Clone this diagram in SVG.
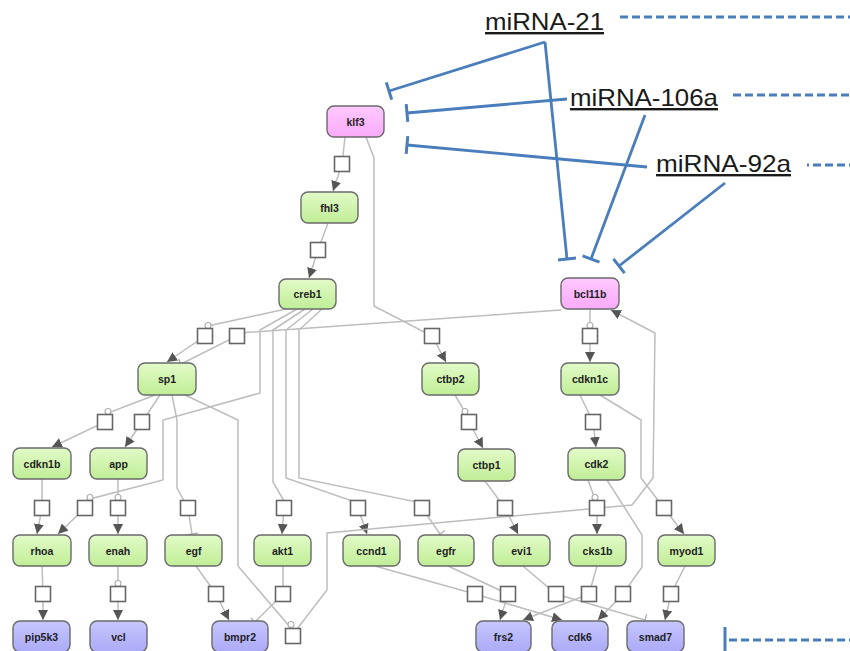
<svg xmlns="http://www.w3.org/2000/svg" width="850" height="651" viewBox="0 0 850 651">
<defs>
<linearGradient id="gG" x1="0" y1="0" x2="0" y2="1"><stop offset="0" stop-color="#e2fbc8"/><stop offset="1" stop-color="#c0ed96"/></linearGradient>
<linearGradient id="gP" x1="0" y1="0" x2="0" y2="1"><stop offset="0" stop-color="#ffc8ff"/><stop offset="1" stop-color="#f9abf9"/></linearGradient>
<linearGradient id="gB" x1="0" y1="0" x2="0" y2="1"><stop offset="0" stop-color="#c6c6ff"/><stop offset="1" stop-color="#abaaf6"/></linearGradient>
<marker id="arr" markerUnits="userSpaceOnUse" markerWidth="11" markerHeight="10" refX="10" refY="5" orient="auto"><path d="M0,0 L10,5 L0,10 z" fill="#555"/></marker>
<marker id="tick" markerUnits="userSpaceOnUse" markerWidth="4" markerHeight="12" refX="2" refY="6" orient="auto"><path d="M2,0 L2,12" stroke="#aaa" stroke-width="1.2"/></marker>
<marker id="tbar" markerUnits="userSpaceOnUse" markerWidth="6" markerHeight="20" refX="3" refY="10" orient="auto"><path d="M3,1 L3,19" stroke="#4a7dbb" stroke-width="3"/></marker>
</defs>
<style>
.n rect{stroke:#6a6a6a;stroke-width:1.4}
.g rect{fill:url(#gG)}
.p rect{fill:url(#gP)}
.b rect{fill:url(#gB)}
.n text{font-family:"Liberation Sans",Arial,sans-serif;font-weight:bold;font-size:10.5px;fill:#1e1e1e;text-anchor:middle}
.e path{fill:none;stroke:#bdbdbd;stroke-width:1.5}
.sq rect{fill:#fff;stroke:#666;stroke-width:1.6}
.sq circle{fill:#fff;stroke:#aaa;stroke-width:1.1}
.bl path{fill:none;stroke:#4a7dbb;stroke-width:2.8}
.ds path{fill:none;stroke:#4a7dbb;stroke-width:3;stroke-dasharray:8 4}
.mi{font-family:"Liberation Sans",Arial,sans-serif;font-size:24px;fill:#1a1a1a;text-decoration:underline}
</style>

<g id="connectors" class="e">
<path marker-end="url(#arr)" d="M345,137 L342,164 L333,191"/>
<path marker-end="url(#arr)" d="M328,223 L318,250 L309,278"/>
<path marker-end="url(#arr)" d="M366,137 L374,158 L374,306 L432,336 L446,362"/>
<path marker-end="url(#arr)" d="M286,309 L208,326 L205,336 L167,362"/>
<path marker-end="url(#tick)" d="M561,310 L240,333 L237,336 L181,364"/>
<path marker-end="url(#arr)" d="M297,309 L260,330 L260,393 L163,420 L163,480 L90,499 L85,508 L58,534"/>
<path marker-end="url(#arr)" d="M305,309 L273,330 L273,482 L284,501 L284,508 L282,534"/>
<path marker-end="url(#arr)" d="M313,309 L286,330 L286,478 L358,503 L358,508 L367,534"/>
<path marker-end="url(#tick)" d="M322,309 L299,330 L299,478 L422,503 L422,508 L440,534"/>
<path marker-end="url(#arr)" d="M155,395 L108,413 L105,422 L52,447"/>
<path marker-end="url(#arr)" d="M160,395 L142,422 L125,447"/>
<path marker-end="url(#tick)" d="M172,395 L177,420 L177,488 L188,508 L192,534"/>
<path d="M185,395 L238,420 L238,566 L290,627 L293,636"/>
<path marker-end="url(#arr)" d="M297,629 L327,590 L327,533 L632,505 L653,478 L655,333 L611,310"/>
<path marker-end="url(#arr)" d="M590,309 L590,336 L590,362"/>
<path marker-end="url(#arr)" d="M455,395 L465,412 L469,422 L483,448"/>
<path marker-end="url(#arr)" d="M485,481 L505,508 L518,534"/>
<path marker-end="url(#arr)" d="M580,395 L593,422 L596,447"/>
<path marker-end="url(#arr)" d="M600,395 L641,420 L641,478 L664,508 L684,534"/>
<path marker-end="url(#arr)" d="M588,480 L595,499 L597,508 L597,534"/>
<path marker-end="url(#arr)" d="M607,480 L642,535 L642,567 L623,594 L598,620"/>
<path marker-end="url(#arr)" d="M42,479 L42,508 L37,534"/>
<path marker-end="url(#arr)" d="M118,479 L118,508 L118,534"/>
<path marker-end="url(#arr)" d="M42,566 L43,594 L43,620"/>
<path marker-end="url(#arr)" d="M118,566 L118,594 L118,620"/>
<path marker-end="url(#arr)" d="M196,566 L216,594 L229,620"/>
<path marker-end="url(#tick)" d="M283,566 L283,594 L255,622"/>
<path marker-end="url(#arr)" d="M375,566 L475,594 L562,620"/>
<path marker-end="url(#arr)" d="M448,566 L508,594 L500,620"/>
<path marker-end="url(#tick)" d="M523,566 L556,594 L645,620"/>
<path marker-end="url(#arr)" d="M597,566 L589,594 L523,620"/>
<path marker-end="url(#arr)" d="M685,566 L671,594 L665,620"/>
</g>

<g id="process-squares" class="sq">
<rect x="334.5" y="156.5" width="15" height="15"/>
<rect x="310.5" y="242.5" width="15" height="15"/>
<rect x="424.5" y="328.5" width="15" height="15"/>
<circle cx="208" cy="325.5" r="3"/><rect x="197.5" y="328.5" width="15" height="15"/>
<rect x="229.5" y="328.5" width="15" height="15"/>
<circle cx="590" cy="325.5" r="3"/><rect x="582.5" y="328.5" width="15" height="15"/>
<circle cx="465" cy="411.5" r="3"/><rect x="461.5" y="414.5" width="15" height="15"/>
<circle cx="108" cy="411.5" r="3"/><rect x="97.5" y="414.5" width="15" height="15"/>
<rect x="134.5" y="414.5" width="15" height="15"/>
<rect x="585.5" y="414.5" width="15" height="15"/>
<rect x="34.5" y="500.5" width="15" height="15"/>
<circle cx="90" cy="497.5" r="3"/><rect x="77.5" y="500.5" width="15" height="15"/>
<circle cx="118" cy="497.5" r="3"/><rect x="110.5" y="500.5" width="15" height="15"/>
<rect x="180.5" y="500.5" width="15" height="15"/>
<rect x="276.5" y="500.5" width="15" height="15"/>
<rect x="350.5" y="500.5" width="15" height="15"/>
<rect x="414.5" y="500.5" width="15" height="15"/>
<rect x="497.5" y="500.5" width="15" height="15"/>
<circle cx="595" cy="497.5" r="3"/><rect x="589.5" y="500.5" width="15" height="15"/>
<rect x="656.5" y="500.5" width="15" height="15"/>
<rect x="35.5" y="586.5" width="15" height="15"/>
<circle cx="118" cy="583.5" r="3"/><rect x="110.5" y="586.5" width="15" height="15"/>
<rect x="208.5" y="586.5" width="15" height="15"/>
<rect x="275.5" y="586.5" width="15" height="15"/>
<rect x="467.5" y="586.5" width="15" height="15"/>
<rect x="500.5" y="586.5" width="15" height="15"/>
<rect x="548.5" y="586.5" width="15" height="15"/>
<rect x="581.5" y="586.5" width="15" height="15"/>
<rect x="615.5" y="586.5" width="15" height="15"/>
<rect x="663.5" y="586.5" width="15" height="15"/>
<circle cx="291" cy="624.5" r="3"/><rect x="285.5" y="628.5" width="15" height="15"/>
</g>

<g id="klf3" class="n p"><rect x="327" y="106" width="57" height="31" rx="7"/><text x="355.5" y="125.5">klf3</text></g>
<g id="fhl3" class="n g"><rect x="301" y="192" width="57" height="31" rx="7"/><text x="329.5" y="211.5">fhl3</text></g>
<g id="creb1" class="n g"><rect x="279" y="279" width="57" height="30" rx="7"/><text x="307.5" y="298">creb1</text></g>
<g id="bcl11b" class="n p"><rect x="561" y="278" width="58" height="31" rx="7"/><text x="590" y="297.5">bcl11b</text></g>
<g id="sp1" class="n g"><rect x="138" y="363" width="58" height="32" rx="7"/><text x="167" y="383">sp1</text></g>
<g id="ctbp2" class="n g"><rect x="422" y="363" width="57" height="32" rx="7"/><text x="450.5" y="383">ctbp2</text></g>
<g id="cdkn1c" class="n g"><rect x="561" y="363" width="58" height="32" rx="7"/><text x="590" y="383">cdkn1c</text></g>
<g id="cdkn1b" class="n g"><rect x="13" y="448" width="58" height="31" rx="7"/><text x="42" y="467.5">cdkn1b</text></g>
<g id="app" class="n g"><rect x="90" y="448" width="57" height="31" rx="7"/><text x="118.5" y="467.5">app</text></g>
<g id="ctbp1" class="n g"><rect x="458" y="449" width="57" height="32" rx="7"/><text x="486.5" y="469">ctbp1</text></g>
<g id="cdk2" class="n g"><rect x="568" y="448" width="57" height="32" rx="7"/><text x="596.5" y="468">cdk2</text></g>
<g id="rhoa" class="n g"><rect x="13" y="535" width="58" height="31" rx="7"/><text x="42" y="554.5">rhoa</text></g>
<g id="enah" class="n g"><rect x="89" y="535" width="58" height="31" rx="7"/><text x="118" y="554.5">enah</text></g>
<g id="egf" class="n g"><rect x="165" y="535" width="57" height="31" rx="7"/><text x="193.5" y="554.5">egf</text></g>
<g id="akt1" class="n g"><rect x="254" y="535" width="57" height="31" rx="7"/><text x="282.5" y="554.5">akt1</text></g>
<g id="ccnd1" class="n g"><rect x="343" y="535" width="57" height="31" rx="7"/><text x="371.5" y="554.5">ccnd1</text></g>
<g id="egfr" class="n g"><rect x="418" y="535" width="56" height="31" rx="7"/><text x="446" y="554.5">egfr</text></g>
<g id="evi1" class="n g"><rect x="493" y="535" width="57" height="31" rx="7"/><text x="521.5" y="554.5">evi1</text></g>
<g id="cks1b" class="n g"><rect x="569" y="535" width="57" height="31" rx="7"/><text x="597.5" y="554.5">cks1b</text></g>
<g id="myod1" class="n g"><rect x="658" y="535" width="57" height="31" rx="7"/><text x="686.5" y="554.5">myod1</text></g>
<g id="pip5k3" class="n b"><rect x="13" y="621" width="57" height="31" rx="7"/><text x="41.5" y="640.5">pip5k3</text></g>
<g id="vcl" class="n b"><rect x="90" y="621" width="57" height="31" rx="7"/><text x="118.5" y="640.5">vcl</text></g>
<g id="bmpr2" class="n b"><rect x="212" y="621" width="56" height="31" rx="7"/><text x="240" y="640.5">bmpr2</text></g>
<g id="frs2" class="n b"><rect x="476" y="621" width="55" height="31" rx="7"/><text x="503.5" y="640.5">frs2</text></g>
<g id="cdk6" class="n b"><rect x="552" y="621" width="56" height="31" rx="7"/><text x="580" y="640.5">cdk6</text></g>
<g id="smad7" class="n b"><rect x="627" y="621" width="57" height="31" rx="7"/><text x="655.5" y="640.5">smad7</text></g>

<g id="mirna-links" class="bl">
<path marker-end="url(#tbar)" d="M545,42 L389,91"/>
<path marker-end="url(#tbar)" d="M545,42 L567,259"/>
<path marker-end="url(#tbar)" d="M567,99 L407,113"/>
<path marker-end="url(#tbar)" d="M645,115 L591,259"/>
<path marker-end="url(#tbar)" d="M647,167 L407,145"/>
<path marker-end="url(#tbar)" d="M725,183 L619,266"/>
</g>
<g id="mirna-dashes" class="ds">
<path d="M620,17 L850,17"/>
<path d="M733,95 L850,95"/>
<path d="M807,165 L809,165 M813,165 L850,165"/>
<path d="M725,627 L725,651" style="stroke-dasharray:none;stroke-width:3"/>
<path d="M729,640 L850,640"/>
</g>
<g id="mirna-21"><text class="mi" x="485" y="30" textLength="119" lengthAdjust="spacingAndGlyphs">miRNA-21</text></g>
<g id="mirna-106a"><text class="mi" x="570" y="106" textLength="148" lengthAdjust="spacingAndGlyphs">miRNA-106a</text></g>
<g id="mirna-92a"><text class="mi" x="656" y="172" textLength="135" lengthAdjust="spacingAndGlyphs">miRNA-92a</text></g>
</svg>
